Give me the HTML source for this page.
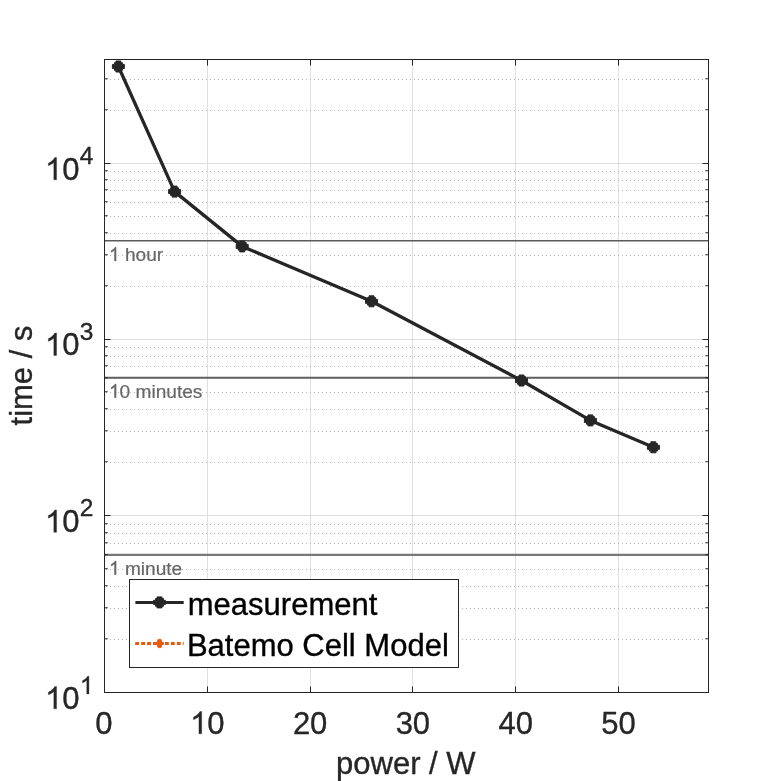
<!DOCTYPE html><html><head><meta charset="utf-8"><title>chart</title><style>html,body{margin:0;padding:0;background:#fff;}svg{display:block;will-change:transform;}text{white-space:pre;font-family:"Liberation Sans",sans-serif;}</style></head><body>
<svg width="781" height="781" viewBox="0 0 781 781">
<rect width="781" height="781" fill="#fff"/>
<line x1="207.5" y1="59.5" x2="207.5" y2="692.5" stroke="#dfdfdf" stroke-width="1"/>
<line x1="310.5" y1="59.5" x2="310.5" y2="692.5" stroke="#dfdfdf" stroke-width="1"/>
<line x1="412.5" y1="59.5" x2="412.5" y2="692.5" stroke="#dfdfdf" stroke-width="1"/>
<line x1="515.5" y1="59.5" x2="515.5" y2="692.5" stroke="#dfdfdf" stroke-width="1"/>
<line x1="618.5" y1="59.5" x2="618.5" y2="692.5" stroke="#dfdfdf" stroke-width="1"/>
<line x1="104.5" y1="515.5" x2="708.5" y2="515.5" stroke="#dfdfdf" stroke-width="1"/>
<line x1="104.5" y1="339.5" x2="708.5" y2="339.5" stroke="#dfdfdf" stroke-width="1"/>
<line x1="104.5" y1="163.5" x2="708.5" y2="163.5" stroke="#dfdfdf" stroke-width="1"/>
<line x1="106" y1="639.5" x2="705.5" y2="639.5" stroke="#b4b4b4" stroke-width="1" stroke-dasharray="1 3"/>
<line x1="106" y1="608.5" x2="705.5" y2="608.5" stroke="#b4b4b4" stroke-width="1" stroke-dasharray="1 3"/>
<line x1="106" y1="586.5" x2="705.5" y2="586.5" stroke="#b4b4b4" stroke-width="1" stroke-dasharray="1 3"/>
<line x1="106" y1="569.5" x2="705.5" y2="569.5" stroke="#b4b4b4" stroke-width="1" stroke-dasharray="1 3"/>
<line x1="106" y1="555.5" x2="705.5" y2="555.5" stroke="#b4b4b4" stroke-width="1" stroke-dasharray="1 3"/>
<line x1="106" y1="543.5" x2="705.5" y2="543.5" stroke="#b4b4b4" stroke-width="1" stroke-dasharray="1 3"/>
<line x1="106" y1="533.5" x2="705.5" y2="533.5" stroke="#b4b4b4" stroke-width="1" stroke-dasharray="1 3"/>
<line x1="106" y1="524.5" x2="705.5" y2="524.5" stroke="#b4b4b4" stroke-width="1" stroke-dasharray="1 3"/>
<line x1="106" y1="462.5" x2="705.5" y2="462.5" stroke="#b4b4b4" stroke-width="1" stroke-dasharray="1 3"/>
<line x1="106" y1="431.5" x2="705.5" y2="431.5" stroke="#b4b4b4" stroke-width="1" stroke-dasharray="1 3"/>
<line x1="106" y1="409.5" x2="705.5" y2="409.5" stroke="#b4b4b4" stroke-width="1" stroke-dasharray="1 3"/>
<line x1="106" y1="392.5" x2="705.5" y2="392.5" stroke="#b4b4b4" stroke-width="1" stroke-dasharray="1 3"/>
<line x1="106" y1="378.5" x2="705.5" y2="378.5" stroke="#b4b4b4" stroke-width="1" stroke-dasharray="1 3"/>
<line x1="106" y1="366.5" x2="705.5" y2="366.5" stroke="#b4b4b4" stroke-width="1" stroke-dasharray="1 3"/>
<line x1="106" y1="356.5" x2="705.5" y2="356.5" stroke="#b4b4b4" stroke-width="1" stroke-dasharray="1 3"/>
<line x1="106" y1="347.5" x2="705.5" y2="347.5" stroke="#b4b4b4" stroke-width="1" stroke-dasharray="1 3"/>
<line x1="106" y1="286.5" x2="705.5" y2="286.5" stroke="#b4b4b4" stroke-width="1" stroke-dasharray="1 3"/>
<line x1="106" y1="255.5" x2="705.5" y2="255.5" stroke="#b4b4b4" stroke-width="1" stroke-dasharray="1 3"/>
<line x1="106" y1="233.5" x2="705.5" y2="233.5" stroke="#b4b4b4" stroke-width="1" stroke-dasharray="1 3"/>
<line x1="106" y1="216.5" x2="705.5" y2="216.5" stroke="#b4b4b4" stroke-width="1" stroke-dasharray="1 3"/>
<line x1="106" y1="202.5" x2="705.5" y2="202.5" stroke="#b4b4b4" stroke-width="1" stroke-dasharray="1 3"/>
<line x1="106" y1="190.5" x2="705.5" y2="190.5" stroke="#b4b4b4" stroke-width="1" stroke-dasharray="1 3"/>
<line x1="106" y1="180.5" x2="705.5" y2="180.5" stroke="#b4b4b4" stroke-width="1" stroke-dasharray="1 3"/>
<line x1="106" y1="171.5" x2="705.5" y2="171.5" stroke="#b4b4b4" stroke-width="1" stroke-dasharray="1 3"/>
<line x1="106" y1="110.5" x2="705.5" y2="110.5" stroke="#b4b4b4" stroke-width="1" stroke-dasharray="1 3"/>
<line x1="106" y1="79.5" x2="705.5" y2="79.5" stroke="#b4b4b4" stroke-width="1" stroke-dasharray="1 3"/>
<line x1="104.5" y1="240.75" x2="708.5" y2="240.75" stroke="#5a5a5a" stroke-width="1.6"/>
<path d="M763 0H583V1147Q518 1085 412.5 1023Q307 961 223 930V1104Q374 1175 487 1276Q600 1377 647 1472H763Z" transform="translate(109.00,260.95) scale(0.00933,-0.00933)" fill="#666" stroke="#666" stroke-width="37.5"/><text x="119.62" y="260.95" font-size="19.1" fill="#666" stroke="#666" stroke-width="0.2"> hour</text>
<line x1="104.5" y1="377.75" x2="708.5" y2="377.75" stroke="#606060" stroke-width="1.9"/>
<path d="M763 0H583V1147Q518 1085 412.5 1023Q307 961 223 930V1104Q374 1175 487 1276Q600 1377 647 1472H763Z" transform="translate(109.00,397.70) scale(0.00933,-0.00933)" fill="#666" stroke="#666" stroke-width="37.5"/><text x="119.62" y="397.70" font-size="19.1" fill="#666" stroke="#666" stroke-width="0.2">0 minutes</text>
<line x1="104.5" y1="554.90" x2="708.5" y2="554.90" stroke="#787878" stroke-width="2.2"/>
<path d="M763 0H583V1147Q518 1085 412.5 1023Q307 961 223 930V1104Q374 1175 487 1276Q600 1377 647 1472H763Z" transform="translate(109.00,574.70) scale(0.00933,-0.00933)" fill="#666" stroke="#666" stroke-width="37.5"/><text x="119.62" y="574.70" font-size="19.1" fill="#666" stroke="#666" stroke-width="0.2"> minute</text>
<polyline fill="none" stroke="#262626" stroke-width="3.3" stroke-linejoin="round" points="118.4,66.5 174.6,191.6 242.2,246.4 371.5,301.3 521.5,380.5 590.4,420.4 653.4,447.3"/>
<polygon points="120.90,61.00 120.90,62.70 122.40,62.70 122.40,64.45 124.40,64.45 124.40,68.55 122.40,68.55 122.40,70.30 120.90,70.30 120.90,72.00 115.90,72.00 115.90,70.30 114.40,70.30 114.40,68.55 112.40,68.55 112.40,64.45 114.40,64.45 114.40,62.70 115.90,62.70 115.90,61.00" fill="#262626" stroke="#262626" stroke-width="1.0" stroke-linejoin="round"/>
<polygon points="177.10,186.10 177.10,187.80 178.60,187.80 178.60,189.55 180.60,189.55 180.60,193.65 178.60,193.65 178.60,195.40 177.10,195.40 177.10,197.10 172.10,197.10 172.10,195.40 170.60,195.40 170.60,193.65 168.60,193.65 168.60,189.55 170.60,189.55 170.60,187.80 172.10,187.80 172.10,186.10" fill="#262626" stroke="#262626" stroke-width="1.0" stroke-linejoin="round"/>
<polygon points="244.70,240.90 244.70,242.60 246.20,242.60 246.20,244.35 248.20,244.35 248.20,248.45 246.20,248.45 246.20,250.20 244.70,250.20 244.70,251.90 239.70,251.90 239.70,250.20 238.20,250.20 238.20,248.45 236.20,248.45 236.20,244.35 238.20,244.35 238.20,242.60 239.70,242.60 239.70,240.90" fill="#262626" stroke="#262626" stroke-width="1.0" stroke-linejoin="round"/>
<polygon points="374.00,295.80 374.00,297.50 375.50,297.50 375.50,299.25 377.50,299.25 377.50,303.35 375.50,303.35 375.50,305.10 374.00,305.10 374.00,306.80 369.00,306.80 369.00,305.10 367.50,305.10 367.50,303.35 365.50,303.35 365.50,299.25 367.50,299.25 367.50,297.50 369.00,297.50 369.00,295.80" fill="#262626" stroke="#262626" stroke-width="1.0" stroke-linejoin="round"/>
<polygon points="524.00,375.00 524.00,376.70 525.50,376.70 525.50,378.45 527.50,378.45 527.50,382.55 525.50,382.55 525.50,384.30 524.00,384.30 524.00,386.00 519.00,386.00 519.00,384.30 517.50,384.30 517.50,382.55 515.50,382.55 515.50,378.45 517.50,378.45 517.50,376.70 519.00,376.70 519.00,375.00" fill="#262626" stroke="#262626" stroke-width="1.0" stroke-linejoin="round"/>
<polygon points="592.90,414.90 592.90,416.60 594.40,416.60 594.40,418.35 596.40,418.35 596.40,422.45 594.40,422.45 594.40,424.20 592.90,424.20 592.90,425.90 587.90,425.90 587.90,424.20 586.40,424.20 586.40,422.45 584.40,422.45 584.40,418.35 586.40,418.35 586.40,416.60 587.90,416.60 587.90,414.90" fill="#262626" stroke="#262626" stroke-width="1.0" stroke-linejoin="round"/>
<polygon points="655.90,441.80 655.90,443.50 657.40,443.50 657.40,445.25 659.40,445.25 659.40,449.35 657.40,449.35 657.40,451.10 655.90,451.10 655.90,452.80 650.90,452.80 650.90,451.10 649.40,451.10 649.40,449.35 647.40,449.35 647.40,445.25 649.40,445.25 649.40,443.50 650.90,443.50 650.90,441.80" fill="#262626" stroke="#262626" stroke-width="1.0" stroke-linejoin="round"/>
<rect x="104.5" y="59.5" width="604.0" height="633.0" fill="none" stroke="#262626" stroke-width="1"/>
<line x1="207.5" y1="692.5" x2="207.5" y2="686.5" stroke="#262626" stroke-width="1"/>
<line x1="207.5" y1="59.5" x2="207.5" y2="65.5" stroke="#262626" stroke-width="1"/>
<line x1="310.5" y1="692.5" x2="310.5" y2="686.5" stroke="#262626" stroke-width="1"/>
<line x1="310.5" y1="59.5" x2="310.5" y2="65.5" stroke="#262626" stroke-width="1"/>
<line x1="412.5" y1="692.5" x2="412.5" y2="686.5" stroke="#262626" stroke-width="1"/>
<line x1="412.5" y1="59.5" x2="412.5" y2="65.5" stroke="#262626" stroke-width="1"/>
<line x1="515.5" y1="692.5" x2="515.5" y2="686.5" stroke="#262626" stroke-width="1"/>
<line x1="515.5" y1="59.5" x2="515.5" y2="65.5" stroke="#262626" stroke-width="1"/>
<line x1="618.5" y1="692.5" x2="618.5" y2="686.5" stroke="#262626" stroke-width="1"/>
<line x1="618.5" y1="59.5" x2="618.5" y2="65.5" stroke="#262626" stroke-width="1"/>
<line x1="104.5" y1="515.5" x2="110.5" y2="515.5" stroke="#262626" stroke-width="1"/>
<line x1="708.5" y1="515.5" x2="702.5" y2="515.5" stroke="#262626" stroke-width="1"/>
<line x1="104.5" y1="339.5" x2="110.5" y2="339.5" stroke="#262626" stroke-width="1"/>
<line x1="708.5" y1="339.5" x2="702.5" y2="339.5" stroke="#262626" stroke-width="1"/>
<line x1="104.5" y1="163.5" x2="110.5" y2="163.5" stroke="#262626" stroke-width="1"/>
<line x1="708.5" y1="163.5" x2="702.5" y2="163.5" stroke="#262626" stroke-width="1"/>
<line x1="104.5" y1="638.75" x2="107.7" y2="638.75" stroke="#262626" stroke-width="1"/>
<line x1="708.5" y1="638.75" x2="705.3" y2="638.75" stroke="#262626" stroke-width="1"/>
<line x1="104.5" y1="607.75" x2="107.7" y2="607.75" stroke="#262626" stroke-width="1"/>
<line x1="708.5" y1="607.75" x2="705.3" y2="607.75" stroke="#262626" stroke-width="1"/>
<line x1="104.5" y1="585.75" x2="107.7" y2="585.75" stroke="#262626" stroke-width="1"/>
<line x1="708.5" y1="585.75" x2="705.3" y2="585.75" stroke="#262626" stroke-width="1"/>
<line x1="104.5" y1="568.75" x2="107.7" y2="568.75" stroke="#262626" stroke-width="1"/>
<line x1="708.5" y1="568.75" x2="705.3" y2="568.75" stroke="#262626" stroke-width="1"/>
<line x1="104.5" y1="554.75" x2="107.7" y2="554.75" stroke="#262626" stroke-width="1"/>
<line x1="708.5" y1="554.75" x2="705.3" y2="554.75" stroke="#262626" stroke-width="1"/>
<line x1="104.5" y1="542.75" x2="107.7" y2="542.75" stroke="#262626" stroke-width="1"/>
<line x1="708.5" y1="542.75" x2="705.3" y2="542.75" stroke="#262626" stroke-width="1"/>
<line x1="104.5" y1="532.75" x2="107.7" y2="532.75" stroke="#262626" stroke-width="1"/>
<line x1="708.5" y1="532.75" x2="705.3" y2="532.75" stroke="#262626" stroke-width="1"/>
<line x1="104.5" y1="523.75" x2="107.7" y2="523.75" stroke="#262626" stroke-width="1"/>
<line x1="708.5" y1="523.75" x2="705.3" y2="523.75" stroke="#262626" stroke-width="1"/>
<line x1="104.5" y1="461.75" x2="107.7" y2="461.75" stroke="#262626" stroke-width="1"/>
<line x1="708.5" y1="461.75" x2="705.3" y2="461.75" stroke="#262626" stroke-width="1"/>
<line x1="104.5" y1="430.75" x2="107.7" y2="430.75" stroke="#262626" stroke-width="1"/>
<line x1="708.5" y1="430.75" x2="705.3" y2="430.75" stroke="#262626" stroke-width="1"/>
<line x1="104.5" y1="408.75" x2="107.7" y2="408.75" stroke="#262626" stroke-width="1"/>
<line x1="708.5" y1="408.75" x2="705.3" y2="408.75" stroke="#262626" stroke-width="1"/>
<line x1="104.5" y1="391.75" x2="107.7" y2="391.75" stroke="#262626" stroke-width="1"/>
<line x1="708.5" y1="391.75" x2="705.3" y2="391.75" stroke="#262626" stroke-width="1"/>
<line x1="104.5" y1="377.75" x2="107.7" y2="377.75" stroke="#262626" stroke-width="1"/>
<line x1="708.5" y1="377.75" x2="705.3" y2="377.75" stroke="#262626" stroke-width="1"/>
<line x1="104.5" y1="365.75" x2="107.7" y2="365.75" stroke="#262626" stroke-width="1"/>
<line x1="708.5" y1="365.75" x2="705.3" y2="365.75" stroke="#262626" stroke-width="1"/>
<line x1="104.5" y1="355.75" x2="107.7" y2="355.75" stroke="#262626" stroke-width="1"/>
<line x1="708.5" y1="355.75" x2="705.3" y2="355.75" stroke="#262626" stroke-width="1"/>
<line x1="104.5" y1="346.75" x2="107.7" y2="346.75" stroke="#262626" stroke-width="1"/>
<line x1="708.5" y1="346.75" x2="705.3" y2="346.75" stroke="#262626" stroke-width="1"/>
<line x1="104.5" y1="285.75" x2="107.7" y2="285.75" stroke="#262626" stroke-width="1"/>
<line x1="708.5" y1="285.75" x2="705.3" y2="285.75" stroke="#262626" stroke-width="1"/>
<line x1="104.5" y1="254.75" x2="107.7" y2="254.75" stroke="#262626" stroke-width="1"/>
<line x1="708.5" y1="254.75" x2="705.3" y2="254.75" stroke="#262626" stroke-width="1"/>
<line x1="104.5" y1="232.75" x2="107.7" y2="232.75" stroke="#262626" stroke-width="1"/>
<line x1="708.5" y1="232.75" x2="705.3" y2="232.75" stroke="#262626" stroke-width="1"/>
<line x1="104.5" y1="215.75" x2="107.7" y2="215.75" stroke="#262626" stroke-width="1"/>
<line x1="708.5" y1="215.75" x2="705.3" y2="215.75" stroke="#262626" stroke-width="1"/>
<line x1="104.5" y1="201.75" x2="107.7" y2="201.75" stroke="#262626" stroke-width="1"/>
<line x1="708.5" y1="201.75" x2="705.3" y2="201.75" stroke="#262626" stroke-width="1"/>
<line x1="104.5" y1="189.75" x2="107.7" y2="189.75" stroke="#262626" stroke-width="1"/>
<line x1="708.5" y1="189.75" x2="705.3" y2="189.75" stroke="#262626" stroke-width="1"/>
<line x1="104.5" y1="179.75" x2="107.7" y2="179.75" stroke="#262626" stroke-width="1"/>
<line x1="708.5" y1="179.75" x2="705.3" y2="179.75" stroke="#262626" stroke-width="1"/>
<line x1="104.5" y1="170.75" x2="107.7" y2="170.75" stroke="#262626" stroke-width="1"/>
<line x1="708.5" y1="170.75" x2="705.3" y2="170.75" stroke="#262626" stroke-width="1"/>
<line x1="104.5" y1="109.75" x2="107.7" y2="109.75" stroke="#262626" stroke-width="1"/>
<line x1="708.5" y1="109.75" x2="705.3" y2="109.75" stroke="#262626" stroke-width="1"/>
<line x1="104.5" y1="78.75" x2="107.7" y2="78.75" stroke="#262626" stroke-width="1"/>
<line x1="708.5" y1="78.75" x2="705.3" y2="78.75" stroke="#262626" stroke-width="1"/>
<text x="95.28" y="733.80" font-size="31" fill="#262626" stroke="#262626" stroke-width="0.35">0</text>
<path d="M763 0H583V1147Q518 1085 412.5 1023Q307 961 223 930V1104Q374 1175 487 1276Q600 1377 647 1472H763Z" transform="translate(190.12,733.80) scale(0.01514,-0.01514)" fill="#262626" stroke="#262626" stroke-width="23.1"/><text x="207.36" y="733.80" font-size="31" fill="#262626" stroke="#262626" stroke-width="0.35">0</text>
<text x="292.88" y="733.80" font-size="31" fill="#262626" stroke="#262626" stroke-width="0.35">20</text>
<text x="395.64" y="733.80" font-size="31" fill="#262626" stroke="#262626" stroke-width="0.35">30</text>
<text x="498.40" y="733.80" font-size="31" fill="#262626" stroke="#262626" stroke-width="0.35">40</text>
<text x="601.16" y="733.80" font-size="31" fill="#262626" stroke="#262626" stroke-width="0.35">50</text>
<path d="M763 0H583V1147Q518 1085 412.5 1023Q307 961 223 930V1104Q374 1175 487 1276Q600 1377 647 1472H763Z" transform="translate(45.00,708.87) scale(0.01514,-0.01514)" fill="#262626" stroke="#262626" stroke-width="23.1"/><text x="62.24" y="708.87" font-size="31" fill="#262626" stroke="#262626" stroke-width="0.35">0</text>
<path d="M763 0H583V1147Q518 1085 412.5 1023Q307 961 223 930V1104Q374 1175 487 1276Q600 1377 647 1472H763Z" transform="translate(79.80,693.92) scale(0.01196,-0.01196)" fill="#262626" stroke="#262626" stroke-width="29.3"/>
<path d="M763 0H583V1147Q518 1085 412.5 1023Q307 961 223 930V1104Q374 1175 487 1276Q600 1377 647 1472H763Z" transform="translate(45.00,532.26) scale(0.01514,-0.01514)" fill="#262626" stroke="#262626" stroke-width="23.1"/><text x="62.24" y="532.26" font-size="31" fill="#262626" stroke="#262626" stroke-width="0.35">0</text>
<text x="79.80" y="516.16" font-size="24.5" fill="#262626" stroke="#262626" stroke-width="0.35">2</text>
<path d="M763 0H583V1147Q518 1085 412.5 1023Q307 961 223 930V1104Q374 1175 487 1276Q600 1377 647 1472H763Z" transform="translate(45.00,355.40) scale(0.01514,-0.01514)" fill="#262626" stroke="#262626" stroke-width="23.1"/><text x="62.24" y="355.40" font-size="31" fill="#262626" stroke="#262626" stroke-width="0.35">0</text>
<text x="79.80" y="340.20" font-size="24.5" fill="#262626" stroke="#262626" stroke-width="0.35">3</text>
<path d="M763 0H583V1147Q518 1085 412.5 1023Q307 961 223 930V1104Q374 1175 487 1276Q600 1377 647 1472H763Z" transform="translate(45.00,179.84) scale(0.01514,-0.01514)" fill="#262626" stroke="#262626" stroke-width="23.1"/><text x="62.24" y="179.84" font-size="31" fill="#262626" stroke="#262626" stroke-width="0.35">0</text>
<text x="79.80" y="164.14" font-size="24.5" fill="#262626" stroke="#262626" stroke-width="0.35">4</text>
<text x="405.8" y="773.8" font-size="31" fill="#262626" stroke="#262626" stroke-width="0.35" text-anchor="middle">power / W</text>
<text transform="translate(32.4,375.5) rotate(-90)" font-size="31" fill="#262626" stroke="#262626" stroke-width="0.35" text-anchor="middle">time / s</text>
<rect x="129.5" y="579.5" width="329" height="88" fill="#fff" stroke="#262626" stroke-width="1"/>
<line x1="135.4" y1="602.4" x2="183.7" y2="602.4" stroke="#262626" stroke-width="3.0"/>
<polygon points="162.00,596.90 162.00,598.60 163.50,598.60 163.50,600.35 165.50,600.35 165.50,604.45 163.50,604.45 163.50,606.20 162.00,606.20 162.00,607.90 157.00,607.90 157.00,606.20 155.50,606.20 155.50,604.45 153.50,604.45 153.50,600.35 155.50,600.35 155.50,598.60 157.00,598.60 157.00,596.90" fill="#262626" stroke="#262626" stroke-width="1.0" stroke-linejoin="round"/>
<text x="187.8" y="614.8" font-size="31" fill="#000" stroke="#000" stroke-width="0.35">measurement</text>
<line x1="135.2" y1="643.5" x2="183.7" y2="643.5" stroke="#e8590c" stroke-width="2.9" stroke-dasharray="3.85 2.1"/>
<polygon points="161.00,639.40 161.00,640.50 161.70,640.50 161.70,642.40 163.50,642.40 163.50,644.60 161.70,644.60 161.70,646.50 161.00,646.50 161.00,647.60 158.00,647.60 158.00,646.50 157.30,646.50 157.30,644.60 155.50,644.60 155.50,642.40 157.30,642.40 157.30,640.50 158.00,640.50 158.00,639.40" fill="#e8590c" stroke="#e8590c" stroke-width="0.8" stroke-linejoin="round"/>
<text x="186.9" y="656.1" font-size="31" fill="#000" stroke="#000" stroke-width="0.35">Batemo Cell Model</text>
</svg></body></html>
